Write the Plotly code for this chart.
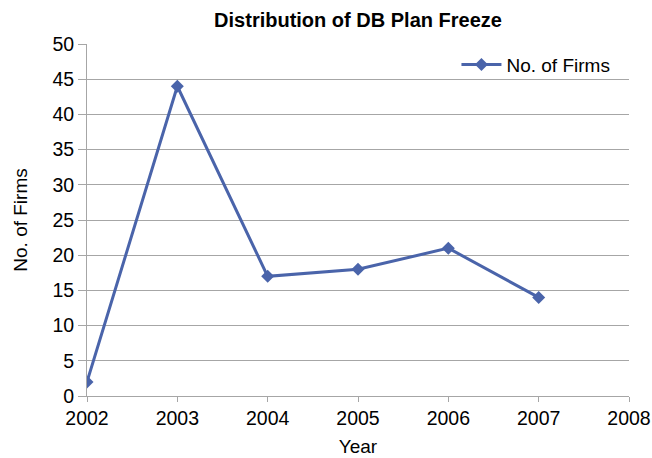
import plotly.graph_objects as go

years = [2002, 2003, 2004, 2005, 2006, 2007]
firms = [2, 44, 17, 18, 21, 14]

line_color = "#4A64AA"
grid_color = "#A6A6A6"
font_family = "Liberation Sans, Arial, sans-serif"
fs = 19
tick_fs = 19.5

fig = go.Figure()
fig.add_trace(go.Scatter(
    x=years, y=firms, mode="lines+markers", name="No. of Firms",
    line=dict(color=line_color, width=3),
    marker=dict(symbol="diamond", size=10, color=line_color),
))

fig.update_layout(
    width=652, height=458,
    margin=dict(l=87, r=23, t=44, b=62),
    paper_bgcolor="white", plot_bgcolor="white",
    font=dict(family=font_family, size=fs, color="#000000"),
    title=dict(text="<b>Distribution of DB Plan Freeze</b>", x=0.5, xref="paper",
               y=1 - 20 / 458, yanchor="middle",
               font=dict(size=20, family=font_family)),
    showlegend=True,
    legend=dict(x=0.975, y=0.995, xanchor="right", yanchor="top",
                bgcolor="rgba(0,0,0,0)", font=dict(size=fs), itemwidth=40),
)
fig.update_xaxes(
    range=[2002, 2008], tickmode="linear", tick0=2002, dtick=1,
    showgrid=False, showline=True, linecolor=grid_color, linewidth=1,
    ticks="outside", ticklen=5, tickcolor=grid_color,
    title=dict(text="Year", standoff=11, font=dict(size=fs)),
    tickfont=dict(size=tick_fs), automargin=False,
    zeroline=False,
)
fig.update_yaxes(
    range=[0, 50], tickmode="linear", tick0=0, dtick=5,
    showgrid=True, gridcolor=grid_color, gridwidth=1,
    showline=True, linecolor=grid_color, linewidth=1,
    ticks="outside", ticklen=8, tickcolor=grid_color,
    title=dict(text="No. of Firms", standoff=19, font=dict(size=fs)),
    tickfont=dict(size=tick_fs), automargin=False,
    zeroline=False,
)

fig.write_html("out.html")
